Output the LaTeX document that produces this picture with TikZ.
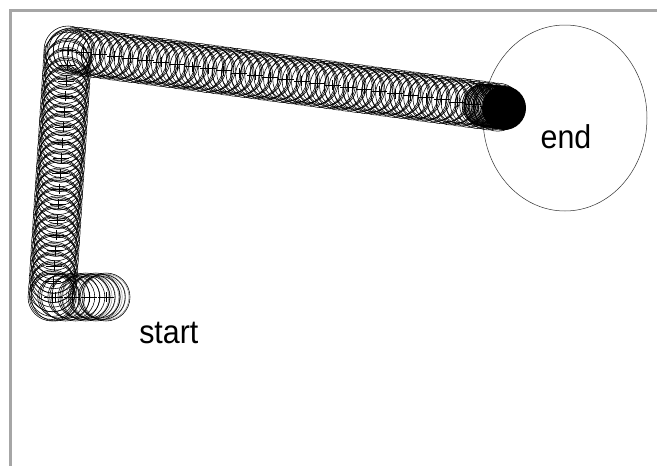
\documentclass[tikz,border=0pt]{standalone}
\usepackage{fontspec}
\setmainfont{Liberation Sans}
\usetikzlibrary{calc,shapes.geometric}

\tikzset{
  ball/.style={draw=black, line width=0.55pt},
  faint/.style={draw=black!45, line width=0.5pt},
  frame/.style={draw=black!35, line width=3pt},
  lbl/.style={font=\fontsize{33}{38}\selectfont, xscale=0.92},
}

\begin{document}
\begin{tikzpicture}[x=1pt,y=-1pt]
\useasboundingbox (0,0) rectangle (657,466);
% window edge
\draw[frame] (10,466) -- (10,10) -- (657,10);

% corners of the path
\coordinate (p0) at (106,297);
\coordinate (p1) at (52,297);
\coordinate (p2) at (68,50);
\coordinate (p3) at (504,108);

% goal region
\node[draw=black!80, line width=0.5pt, ellipse, minimum width=164pt, minimum height=186pt] (goal) at (565,118) {};

% slow start
\foreach \i in {0,...,6}{
  \draw[faint] ($(p0)!\i/16!(p1)$) circle[radius=23pt];
}
% the trail, every 5th ball with its cross
\foreach \a/\b/\n in {p0/p1/16, p1/p2/80, p2/p3/140}{
  \foreach \i in {0,...,\n}{
    \path ($(\a)!\i/\n!(\b)$) coordinate (c);
    \pgfmathsetmacro\r{mod(\i,3)==0 ? 24 : (mod(\i,3)==1 ? 22.5 : 21)}
    \draw[ball] (c) circle[radius=\r pt];
    \pgfmathtruncatemacro\k{mod(\i,5)}
    \ifnum\k=0
      \draw[ball] ($(c)+(-8,0)$) -- ($(c)+(8,0)$) ($(c)+(0,-5)$) -- ($(c)+(0,5)$);
    \fi
  }
}
% slow stop
\foreach \i in {0,...,14}{
  \draw[ball, line width=0.8pt] ($(p3)!{\i*1.5pt}!(p2)$) circle[radius=21pt];
}
\fill (p3) circle[radius=22pt];

\node[lbl, anchor=base west] (startlbl) at (136,343) {start};
\node[lbl, anchor=base] (endlbl) at (566,148) {end};
\end{tikzpicture}
\end{document}
